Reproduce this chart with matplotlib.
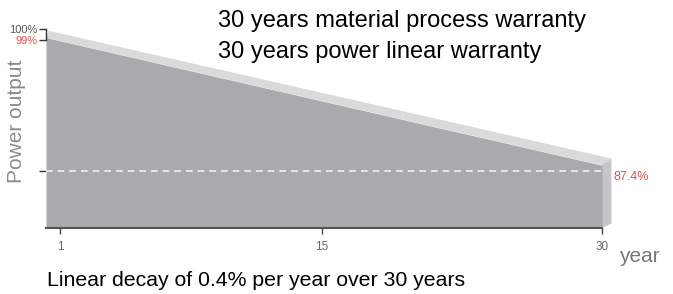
import matplotlib.pyplot as plt
import numpy as np

# data
years = [0.25, 30]
power = [99.2, 87.9]
x_ticks = [1, 15, 30]
x_tick_labels = ['1', '15', '30']
y_marks = [100, 99, 87.4]
y_mark_labels = ['100%', '99%', '87.4%']
base = 82.35
title_lines = ['30 years material process warranty', '30 years power linear warranty']
caption = 'Linear decay of 0.4% per year over 30 years'


def plot_warranty(out_file):

    ### general plot configurations ###
    plt.rcParams['font.family'] = 'Liberation Sans'
    plt.rcParams['font.size'] = 12

    fig = plt.figure(figsize=(6.73, 2.94), dpi=100)
    ax = fig.add_axes([46 / 673, 66 / 294, (615 - 46) / 673, 213 / 294])

    front = '#aaa9ae'
    top = '#dadada'
    side = '#c6c6c8'
    dx, dy = 0.5, 0.6

    # top face (light band), drawn first so the front overlaps it
    ax.fill([years[0], years[1], years[1] + dx, years[0] + dx * 0.3],
            [power[0], power[1], power[1] + dy, power[0] + dy],
            color=top, linewidth=0)
    # side face
    ax.fill([years[1], years[1] + dx, years[1] + dx, years[1]],
            [power[1], power[1] + dy, base + 0.4, base],
            color=side, linewidth=0)
    # front face
    ax.fill_between(years, power, base, color=front, linewidth=0)

    # 87.4% guide line
    ax.plot([years[0], years[1]], [y_marks[2], y_marks[2]], color='#f2f2f2',
            linestyle=(0, (4, 3)), linewidth=1.2)

    ax.set_xlim(0.251, 30.69)
    ax.set_ylim(base, 101.2)

    ### axes styling ###
    for s in ['top', 'right']:
        ax.spines[s].set_visible(False)
    ax.spines['bottom'].set_bounds(years[0], years[1])
    ax.spines['bottom'].set_color('#555555')
    ax.spines['bottom'].set_linewidth(1.5)
    ax.spines['left'].set_bounds(y_marks[1], y_marks[0])
    ax.spines['left'].set_color('#333333')
    ax.spines['left'].set_linewidth(1.0)

    ax.set_xticks(x_ticks)
    ax.set_xticklabels(x_tick_labels)
    ax.tick_params(axis='x', length=4, width=1, color='#444444', labelsize=8.5,
                   labelcolor='#666666', pad=5)

    ax.set_yticks(y_marks)
    ax.set_yticklabels(['100%', '99%', ''])
    ax.tick_params(axis='y', length=5, width=1, color='#333333', labelsize=8, pad=1)
    ylabels = ax.get_yticklabels()
    ylabels[0].set_color('#555555')
    ylabels[1].set_color('#d9534f')

    ax.text(years[1] + 0.6, y_marks[2], y_mark_labels[2], color='#d9534f', fontsize=9,
            va='top', ha='left')

    ax.text(-0.052, 0.5, 'Power output', transform=ax.transAxes, rotation=90,
            color='#8a8a8a', fontsize=15, ha='center', va='center')

    fig.text(619 / 673, 1 - 256 / 294, 'year', color='#777777', fontsize=15, va='center')

    fig.text(218 / 673, 1 - 21 / 294, title_lines[0], fontsize=17, va='center')
    fig.text(218 / 673, 1 - 52 / 294, title_lines[1], fontsize=17, va='center')
    fig.text(47 / 673, 1 - 281 / 294, caption, fontsize=15.3, va='center')

    plt.savefig(out_file, dpi=100)


if __name__ == '__main__':
    plot_warranty('out.png')
